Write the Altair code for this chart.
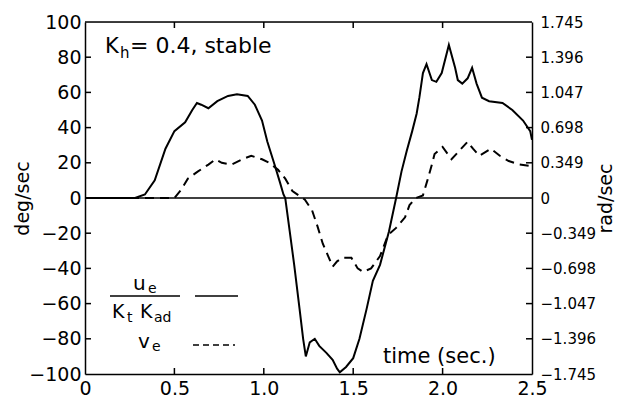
import altair as alt
import pandas as pd
import math

# solid curve: u_e/(Kt Kad)  (deg/sec)
t_u = [0.0, 0.28, 0.335, 0.39, 0.45, 0.50, 0.56, 0.60, 0.626, 0.65, 0.69, 0.74, 0.80, 0.85, 0.91, 0.95,
       0.99, 1.02, 1.06, 1.09, 1.11, 1.12, 1.145, 1.17, 1.20, 1.22, 1.235, 1.257, 1.285, 1.31, 1.35, 1.385,
       1.41, 1.425, 1.46, 1.50, 1.535, 1.575, 1.61, 1.65, 1.70, 1.74, 1.77, 1.80, 1.83, 1.855, 1.87, 1.89,
       1.91, 1.94, 1.965, 1.995, 2.035, 2.07, 2.085, 2.11, 2.14, 2.165, 2.19, 2.22, 2.26, 2.335, 2.39, 2.45,
       2.49, 2.50]
u_vals = [0, 0, 2, 10, 28, 38, 43, 50, 54, 53, 51, 55, 58, 59, 58, 53,
          44, 32, 19, 9, 2, 0, -19, -38, -63, -80, -90, -82, -80, -84, -88, -92,
          -97, -99, -96, -91, -80, -63, -47, -38, -19, 0, 15, 27, 38, 48, 57, 71,
          76, 67, 66, 71, 87, 74, 67, 65, 68, 74, 65, 57, 55, 54, 50, 44,
          38, 33]

# dashed curve: v_e (deg/sec)
t_v = [0.0, 0.50, 0.54, 0.575, 0.63, 0.69, 0.73, 0.765, 0.82, 0.88, 0.93, 0.99, 1.03, 1.08, 1.12, 1.16,
       1.23, 1.27, 1.30, 1.33, 1.36, 1.385, 1.41, 1.44, 1.49, 1.525, 1.555, 1.60, 1.65, 1.695, 1.74, 1.79,
       1.815, 1.85, 1.89, 1.915, 1.94, 1.955, 2.00, 2.05, 2.095, 2.14, 2.17, 2.205, 2.27, 2.32, 2.37, 2.43,
       2.50]
v_vals = [0, 0, 5, 11, 15, 19, 22, 20, 19, 22, 24, 22, 20, 16, 11, 4,
          -1, -7, -16, -26, -33, -39, -36, -34, -34, -40, -42, -40, -33, -21, -17, -11,
          -4, 0, 1.5, 10, 19, 25, 29, 22, 27, 32, 28, 24, 28, 24, 21, 19,
          18]

x_ticks = [0, 0.5, 1.0, 1.5, 2.0, 2.5]
inner_x_ticks = [0.5, 1.0, 1.5, 2.0]
deg_ticks = [-100, -80, -60, -40, -20, 0, 20, 40, 60, 80, 100]
inner_deg_ticks = [-80, -60, -40, -20, 20, 40, 60, 80]
rad_ticks = [-1.745, -1.396, -1.047, -0.698, -0.349, 0, 0.349, 0.698, 1.047, 1.396, 1.745]

W, H = 447, 352
FONT = "DejaVu Sans"

du = pd.DataFrame({"t": t_u, "deg": u_vals})
dv = pd.DataFrame({"t": t_v, "deg": v_vals})
dxt = pd.DataFrame({"t": inner_x_ticks})
dyt = pd.DataFrame({"deg": inner_deg_ticks})
drad = pd.DataFrame({"t": t_u, "rad": [u * math.pi / 180 for u in u_vals]})

xs = alt.Scale(domain=[0, 2.5], nice=False)
ys = alt.Scale(domain=[-100, 100], nice=False)

x_axis = alt.Axis(values=x_ticks,
                  labelExpr="datum.value == 0 ? '0' : format(datum.value, '.1f')",
                  title=None, tickSize=0, labelPadding=5, labelFontSize=19, labelFont=FONT,
                  labelColor="black", domainColor="black", domainWidth=1.5, grid=False,
                  labelFlush=False, labelOverlap=False)
y_axis = alt.Axis(values=deg_ticks, title="deg/sec", tickSize=0,
                  labelPadding=4, labelFontSize=19, labelFont=FONT, labelColor="black",
                  titleFontSize=19, titleFont=FONT, titleFontWeight="normal", titleColor="black",
                  titleAngle=270, titleX=-53, titleY=H / 2, titleAlign="center",
                  titleBaseline="bottom",
                  domainColor="black", domainWidth=1.5, grid=False,
                  labelFlush=False, labelOverlap=False)

def X(field="t"):
    return alt.X(f"{field}:Q", scale=xs, axis=x_axis, title=None)

def Y(field="deg"):
    return alt.Y(f"{field}:Q", scale=ys, axis=y_axis, title="deg/sec")

solid = alt.Chart(du).mark_line(color="black", strokeWidth=2).encode(x=X(), y=Y())
dashed = alt.Chart(dv).mark_line(color="black", strokeWidth=2, strokeDash=[9, 6]).encode(x=X(), y=Y())
zero = alt.Chart(pd.DataFrame({"deg": [0]})).mark_rule(color="black", strokeWidth=1.5).encode(
    y=Y(), x=alt.value(0), x2=alt.value(W))

# inward ticks
xt_bot = alt.Chart(dxt).mark_rule(color="black", strokeWidth=1.5).encode(
    x=X(), y=alt.value(H), y2=alt.value(H - 6))
xt_top = alt.Chart(dxt).mark_rule(color="black", strokeWidth=1.5).encode(
    x=X(), y=alt.value(0), y2=alt.value(6))
yt_left = alt.Chart(dyt).mark_rule(color="black", strokeWidth=1.5).encode(
    y=Y(), x=alt.value(0), x2=alt.value(6))
yt_right = alt.Chart(dyt).mark_rule(color="black", strokeWidth=1.5).encode(
    y=Y(), x=alt.value(W - 6), x2=alt.value(W))
top_border = alt.Chart(pd.DataFrame({"deg": [100]})).mark_rule(color="black", strokeWidth=1.5).encode(
    y=Y(), x=alt.value(0), x2=alt.value(W))

def txt(s, x, y, size=20, align="left"):
    return alt.Chart(pd.DataFrame({"s": [s]})).mark_text(
        text=s, font=FONT, fontSize=size, color="black", align=align, baseline="alphabetic"
    ).encode(x=alt.value(x), y=alt.value(y))

def seg(x1, x2, y, dash=None):
    kw = dict(color="black", strokeWidth=1.5)
    if dash:
        kw["strokeDash"] = dash
    return alt.Chart(pd.DataFrame({"a": [0]})).mark_rule(**kw).encode(
        x=alt.value(x1), x2=alt.value(x2), y=alt.value(y))

annots = [
    txt("K", 20, 31, 21), txt("h", 35, 36, 15), txt("= 0.4, stable", 45, 31, 22),
    txt("u", 48, 268, 20), txt("e", 63, 271, 14),
    seg(25, 95, 274),
    txt("K", 27, 296, 19), txt("t", 42, 300, 14), txt("K", 55, 296, 19), txt("ad", 69, 300, 14),
    seg(110, 153, 274),
    txt("v", 53, 326, 20), txt("e", 67, 329, 14),
    seg(108, 150, 323, [6, 4]),
    txt("time (sec.)", 298, 341, 21),
]

left = alt.layer(zero, top_border, solid, dashed, xt_bot, xt_top, yt_left, yt_right, *annots)

right = alt.Chart(drad).mark_line(opacity=0).encode(
    x=X(),
    y=alt.Y("rad:Q", scale=alt.Scale(domain=[-1.745, 1.745], nice=False),
            axis=alt.Axis(orient="right", values=rad_ticks, title="rad/sec", tickSize=0,
                          labelExpr="datum.value == 0 ? '0' : format(datum.value, '.3f')",
                          labelPadding=8, labelFontSize=15, labelFont=FONT, labelColor="black",
                          titleFontSize=19, titleFont=FONT, titleFontWeight="normal",
                          titleColor="black", titleAngle=270, titleBaseline="top",
                          titleX=64, titleY=H / 2, titleAlign="center",
                          domainColor="black", domainWidth=1.5, grid=False,
                          labelFlush=False, labelOverlap=False)))

chart = alt.layer(left, right).resolve_scale(y="independent").properties(
    width=W, height=H,
    autosize=alt.AutoSizeParams(type="none"),
    padding={"left": 77, "top": 14, "right": 86, "bottom": 24},
).configure_view(stroke="black", strokeWidth=1.5).configure(background="white")

chart.save("out.html", embed_options={"renderer": "svg", "actions": False})
